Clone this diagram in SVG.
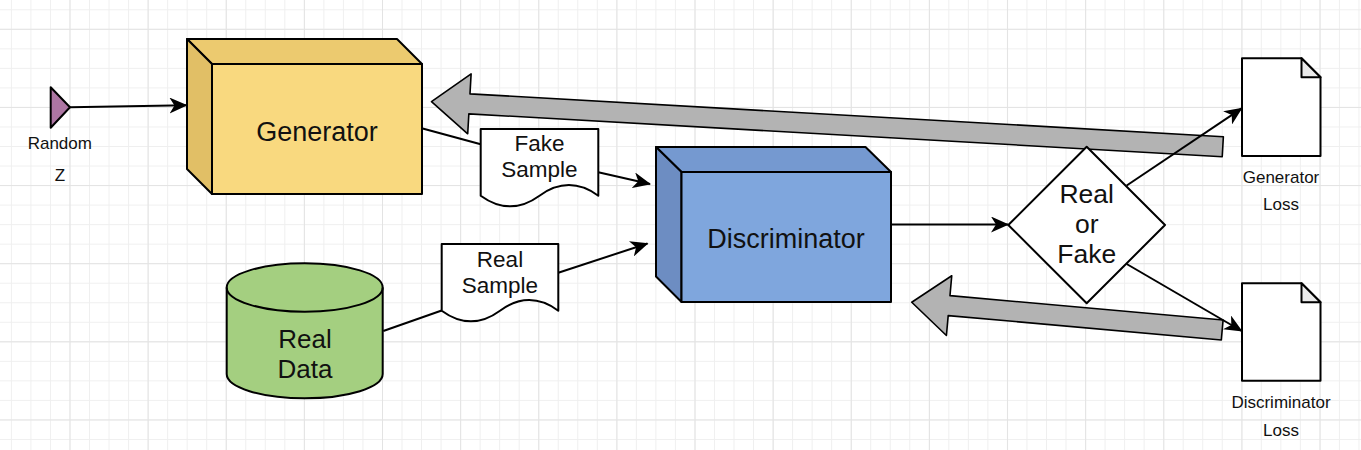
<svg xmlns="http://www.w3.org/2000/svg" width="1361" height="450" viewBox="0 0 1361 450">
<defs>
<pattern id="minor" patternUnits="userSpaceOnUse" x="10.9" y="9.3" width="19.53" height="19.53">
<path d="M0.5,0 V19.53 M0,0.5 H19.53" stroke="#efefef" stroke-width="1" fill="none"/>
</pattern>
<pattern id="major" patternUnits="userSpaceOnUse" x="-8.63" y="-49.33" width="78.13" height="78.13">
<path d="M0.5,0 V78.13 M0,0.5 H78.13" stroke="#e3e3e3" stroke-width="1" fill="none"/>
</pattern>
<marker id="arr" viewBox="0 0 18 16" refX="17" refY="8" markerWidth="18" markerHeight="16" markerUnits="userSpaceOnUse" orient="auto">
<path d="M0,0 L18,8 L0,16 L5,8 Z" fill="#000"/>
</marker>
<style>
.t{font-family:"Liberation Sans",Arial,Helvetica,sans-serif;fill:#111;text-anchor:middle}
.s{stroke:#000;stroke-width:2;stroke-linejoin:round}
.c{stroke:#000;stroke-width:2;fill:none}
.big{fill:#b3b3b3;stroke:#000;stroke-width:1.6;stroke-linejoin:round}
</style>
</defs>
<rect width="1361" height="450" fill="#fff"/>
<rect width="1361" height="450" fill="url(#minor)"/>
<rect width="1361" height="450" fill="url(#major)"/>

<g id="feedback-arrows">
<polygon class="big" transform="translate(1222.8,146.7) rotate(183.255)" points="0,-10 754.6,-10 754.6,-30 792.6,0 754.6,30 754.6,10 0,10"/>
<polygon class="big" transform="translate(1222.2,330) rotate(185.1)" points="0,-10 274.2,-10 274.2,-30 311.7,0 274.2,30 274.2,10 0,10"/>
</g>

<g id="random">
<polygon class="s" points="50.7,87.3 50.7,127.7 70,107.3" fill="#ad76a3"/>
<text class="t" x="59.8" y="149.3" font-size="17">Random</text>
<text class="t" x="60" y="181" font-size="17">Z</text>
</g>

<g id="generator">
<polygon class="s" points="187,39 397,39 422,64 212,64" fill="#ecca6f"/>
<polygon class="s" points="187,39 212,64 212,194 187,169" fill="#e1bf66"/>
<rect class="s" x="212" y="64" width="210" height="130" fill="#f9d97f"/>
<text class="t" x="317" y="141" font-size="27">Generator</text>
</g>

<g id="fake-sample">
<path class="s" d="M480.7,129 H598.3 V195.7 Q568.9,174.5 539.5,195.7 Q510.1,217 480.7,195.7 Z" fill="#fff"/>
<text class="t" x="539.5" y="150.7" font-size="22.5">Fake</text>
<text class="t" x="539.5" y="177.3" font-size="22.5">Sample</text>
</g>

<g id="real-data">
<path class="s" d="M226.7,287.5 A78,24.2 0 0 1 382.7,287.5 V374.1 A78,24.2 0 0 1 226.7,374.1 Z" fill="#a4cf80"/>
<path class="c" d="M226.7,287.5 A78,24.2 0 0 0 382.7,287.5"/>
<text class="t" x="305" y="348.3" font-size="26">Real</text>
<text class="t" x="305" y="378.3" font-size="26">Data</text>
</g>

<g id="real-sample">
<path class="s" d="M441.7,244 H558.3 V310.7 Q529.2,289.5 500,310.7 Q470.9,332 441.7,310.7 Z" fill="#fff"/>
<text class="t" x="500" y="266.7" font-size="22.5">Real</text>
<text class="t" x="500" y="293.3" font-size="22.5">Sample</text>
</g>

<g id="discriminator">
<polygon class="s" points="656,147 865.5,147 891,172 681.5,172" fill="#7599d0"/>
<polygon class="s" points="656,147 681.5,172 681.5,302 656,276.5" fill="#6d8dc2"/>
<rect class="s" x="681.5" y="172" width="209.5" height="130" fill="#7fa6dd"/>
<text class="t" x="786" y="248.3" font-size="27">Discriminator</text>
</g>

<g id="real-or-fake">
<polygon class="s" points="1008.3,225 1086.7,146.7 1165,225 1086.7,303.3" fill="#fff"/>
<text class="t" x="1086.7" y="203.3" font-size="26.5">Real</text>
<text class="t" x="1086.7" y="233.3" font-size="26.5">or</text>
<text class="t" x="1086.7" y="263.3" font-size="26.5">Fake</text>
</g>

<g id="generator-loss">
<path class="s" d="M1242,58.3 H1301.5 L1320.5,77.3 V156 H1242 Z" fill="#fff"/>
<path class="s" d="M1301.5,58.3 V77.3 H1320.5 Z" fill="#ebebeb"/>
<text class="t" x="1281" y="183.3" font-size="17">Generator</text>
<text class="t" x="1281" y="210" font-size="17">Loss</text>
</g>

<g id="discriminator-loss">
<path class="s" d="M1242,283.3 H1301.5 L1320.5,302.3 V380.7 H1242 Z" fill="#fff"/>
<path class="s" d="M1301.5,283.3 V302.3 H1320.5 Z" fill="#ebebeb"/>
<text class="t" x="1281" y="408.3" font-size="17">Discriminator</text>
<text class="t" x="1281" y="435.7" font-size="17">Loss</text>
</g>

<g id="connectors">
<line class="c" x1="70" y1="107.3" x2="186.5" y2="105.3" marker-end="url(#arr)"/>
<line class="c" x1="421.7" y1="128.3" x2="480.7" y2="144.3"/>
<line class="c" x1="598.3" y1="172.3" x2="650" y2="184" marker-end="url(#arr)"/>
<line class="c" x1="383.3" y1="331" x2="441.7" y2="310.5"/>
<line class="c" x1="558.3" y1="272.7" x2="647.5" y2="243.5" marker-end="url(#arr)"/>
<line class="c" x1="891" y1="224.5" x2="1008" y2="224.5" marker-end="url(#arr)"/>
<line class="c" x1="1126.7" y1="185.5" x2="1241.7" y2="108.3" marker-end="url(#arr)"/>
<line class="c" x1="1126.7" y1="264" x2="1241.7" y2="331" marker-end="url(#arr)"/>
</g>
</svg>
